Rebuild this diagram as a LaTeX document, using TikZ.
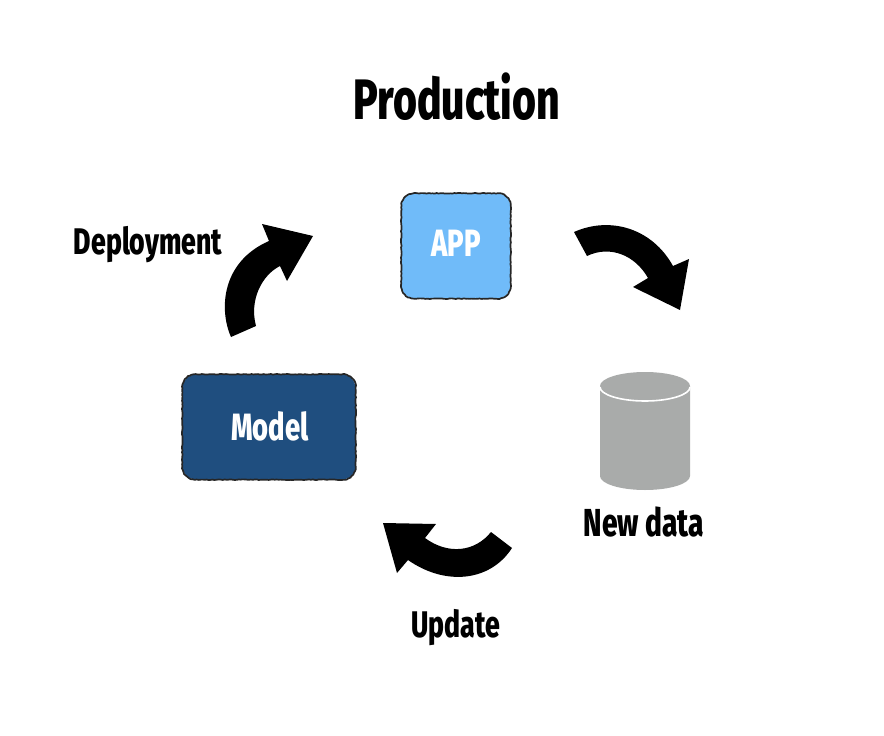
\documentclass[tikz,border=0pt]{standalone}
\usepackage{xcolor}
\usepackage{fontspec}
\usetikzlibrary{decorations}
\setmainfont[FakeStretch=0.72]{Fira Sans ExtraBold}
\definecolor{appblue}{HTML}{70BBF9}
\definecolor{modelblue}{HTML}{1F4E7F}
\definecolor{datagray}{HTML}{A9ABAA}
\pgfdeclaredecoration{roughline}{first}{
  \state{first}[width=+0pt,next state=wobble]{\pgfsetcornersarced{\pgfpointorigin}}
  \state{wobble}[auto end on length=3pt,width=+2pt]{
    \pgfsetcornersarced{\pgfpointorigin}
    \pgfpathlineto{\pgfpoint{2pt+rand*0.35pt}{rand*0.35pt}}
  }
  \state{final}{}
}
\newcommand{\roughoutline}[1]{\draw[roughedge] (#1.north) -| (#1.east) |- (#1.south) -| (#1.west) |- (#1.north);}
\tikzset{
  roughbox/.style={rounded corners=13pt, inner sep=0pt},
  roughedge/.style={draw=black!85, line width=1.7pt, rounded corners=13pt, line cap=round,
    decorate, decoration=roughline},
  bigarrow/.style={fill=black, draw=none},
  bigtext/.style={font=\fontsize{37}{40}\selectfont},
  boxtext/.style={font=\fontsize{38}{40}\selectfont, text=white}
}
\begin{document}
\begin{tikzpicture}[x=1pt,y=-1pt]
  \useasboundingbox (0,0) rectangle (884,736);

  % title
  \node[font=\fontsize{57}{60}\selectfont] (title) at (457,97) {Production};

  % app and model
  \node[roughbox, fill=appblue, minimum width=109pt, minimum height=105pt] (app) at (456,246) {};
  \roughoutline{app}
  \node[boxtext] (applabel) at (456,243) {APP};
  \node[roughbox, fill=modelblue, minimum width=173pt, minimum height=105pt] (model) at (269,427) {};
  \roughoutline{model}
  \node[boxtext] (modellabel) at (270,426) {Model};

  % the data cylinder
  \fill[datagray] (600,386) arc[start angle=180, end angle=360, x radius=45, y radius=14]
    -- (690,476) arc[start angle=0, end angle=180, x radius=45, y radius=14] -- cycle;
  \draw[white, line width=1.6pt] (600,387) arc[start angle=180, end angle=0, x radius=45, y radius=14];

  % labels
  \node[bigtext] (deployment) at (148,245) {Deployment};
  \node[bigtext, font=\fontsize{39}{40}\selectfont] (newdata) at (644,522) {New data};
  \node[bigtext] (update) at (456,628) {Update};

  % deployment arrow
  \fill[bigarrow] (231,337) .. controls (219,310) and (221,262) .. (269,241)
    -- (262,224) -- (313,236) -- (287,281) -- (280,266)
    .. controls (262,275) and (249,300) .. (256,326) -- cycle;

  % arrow to the data
  \fill[bigarrow] (574,232) .. controls (610,216) and (652,228) .. (673,266)
    -- (689,259) -- (680,310) -- (633,287) -- (648,278)
    .. controls (635,255) and (610,245) .. (587,256) -- cycle;

  % update arrow
  \fill[bigarrow] (512,548) .. controls (490,582) and (445,586) .. (408,560)
    -- (397,573) -- (383,523) -- (436,524) -- (425,538)
    .. controls (448,555) and (475,552) .. (491,532) -- cycle;
\end{tikzpicture}
\end{document}
